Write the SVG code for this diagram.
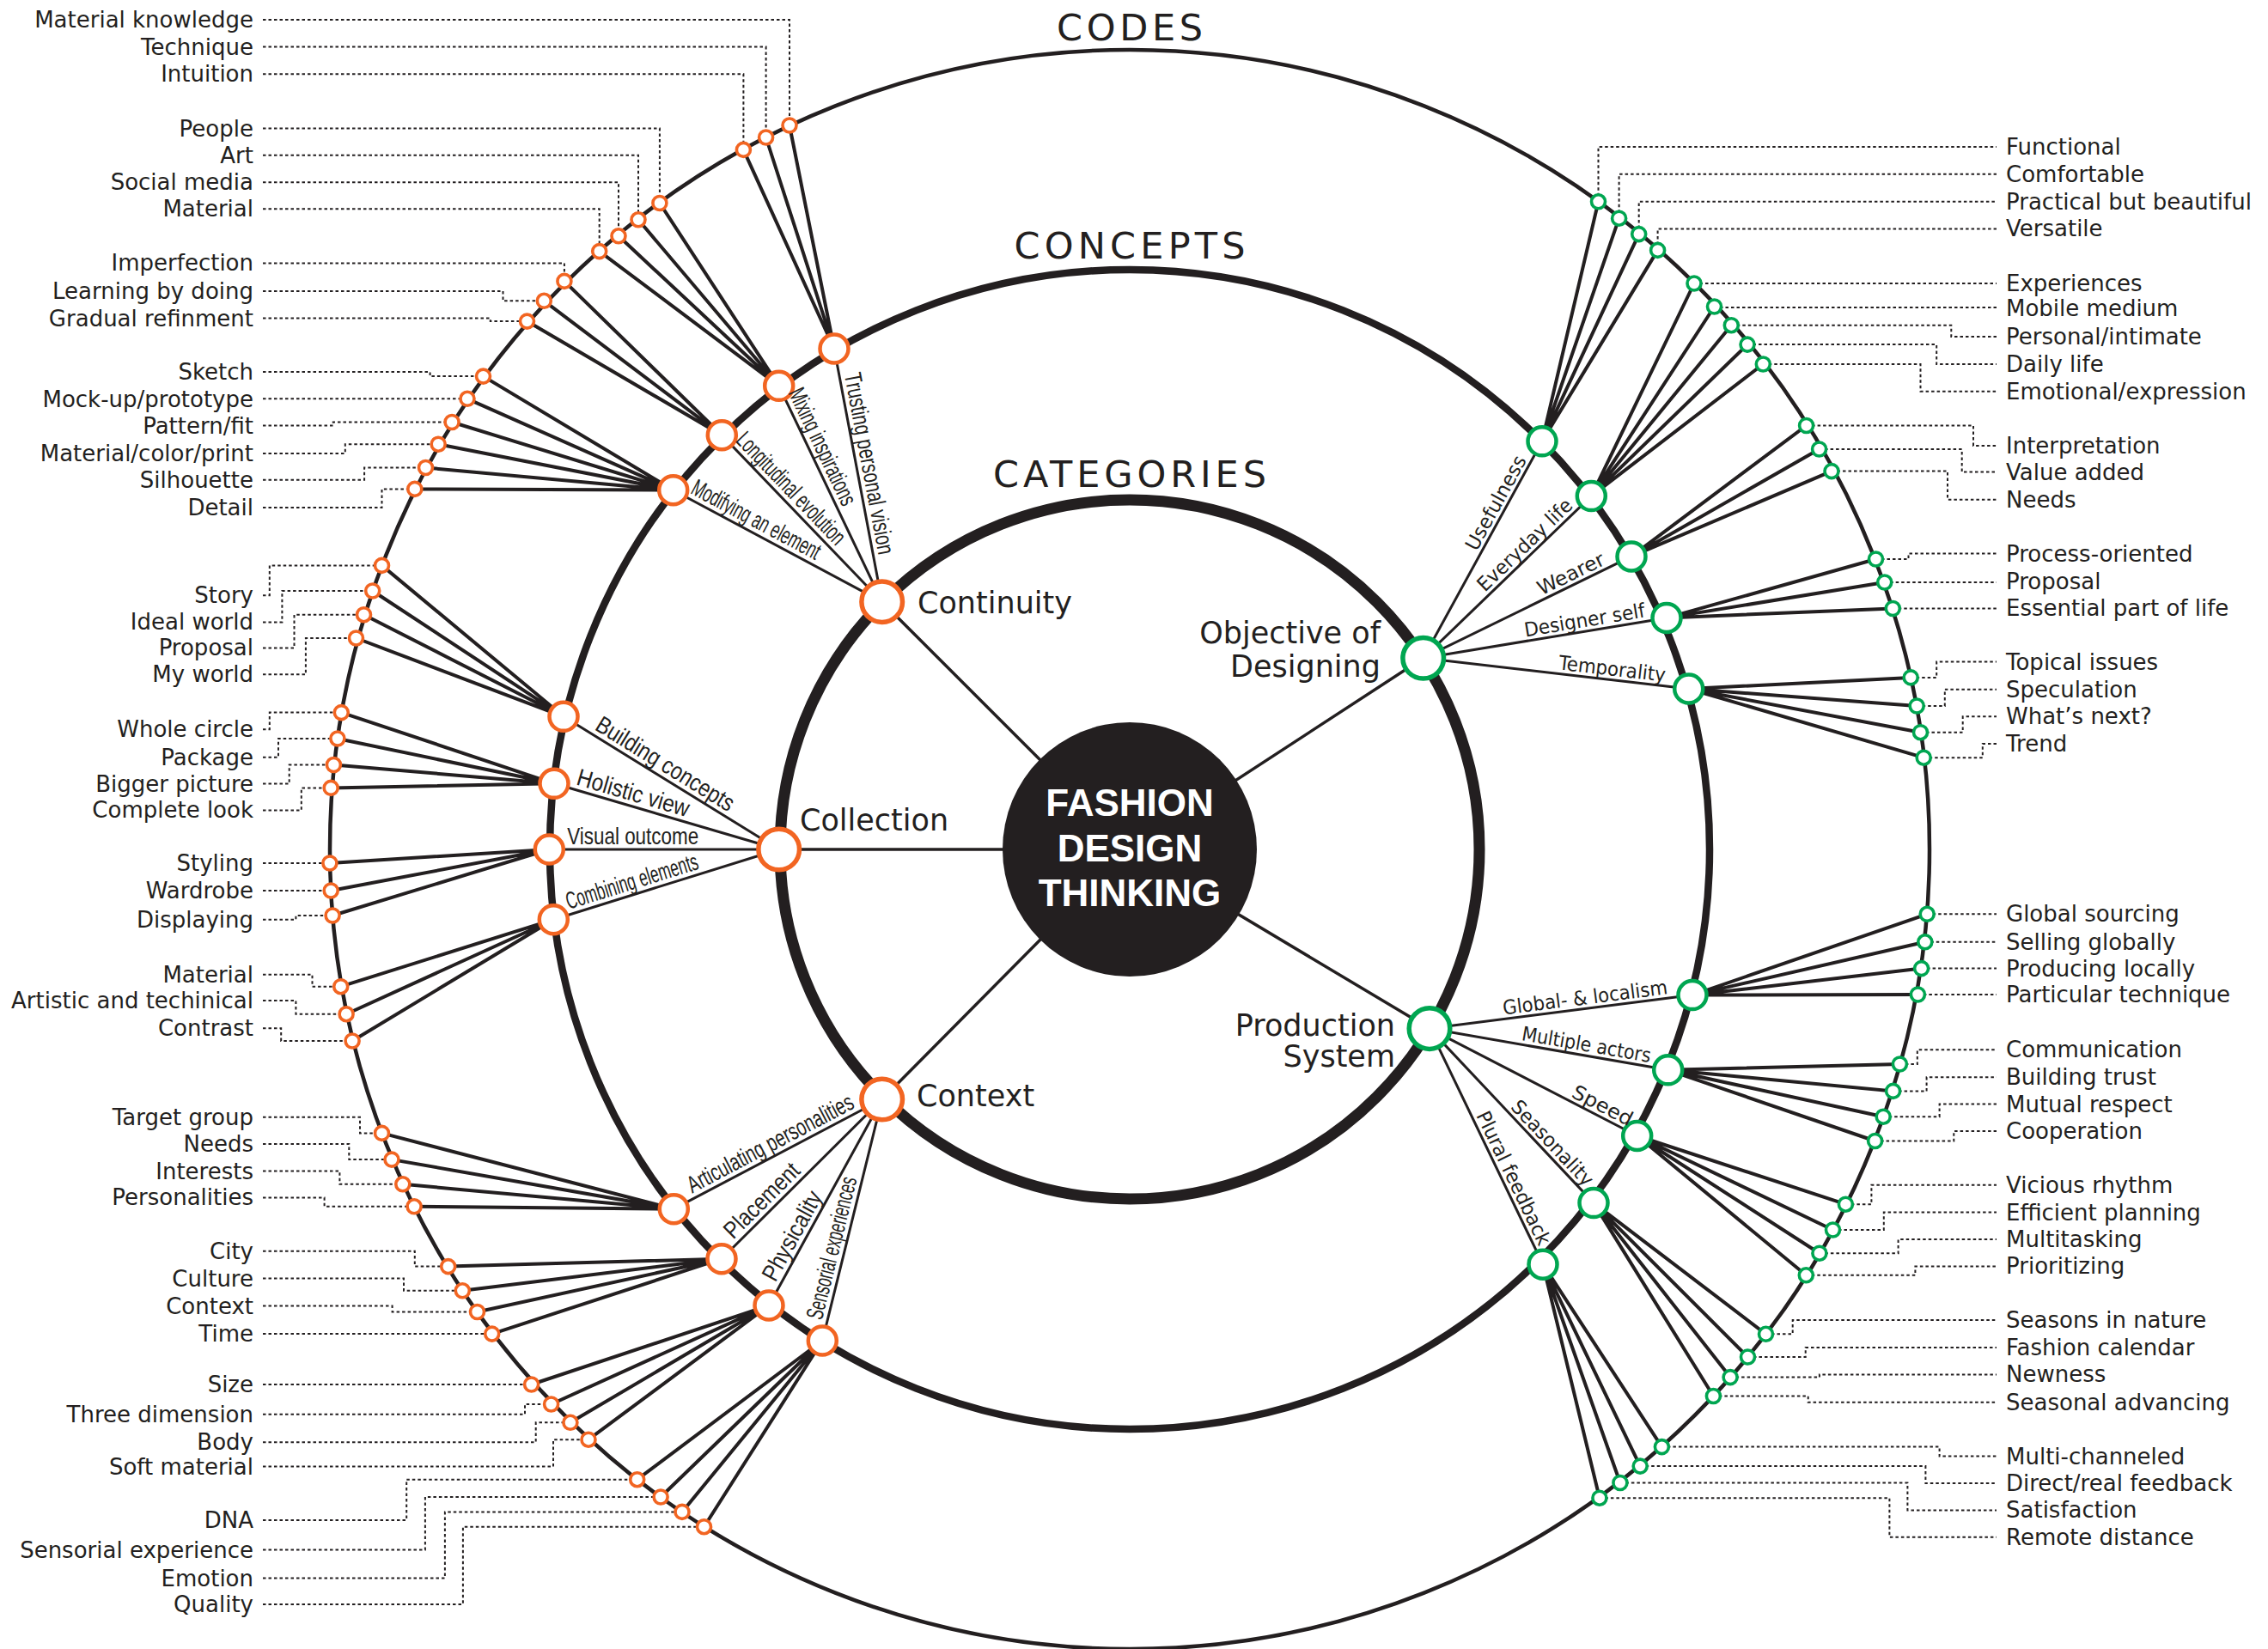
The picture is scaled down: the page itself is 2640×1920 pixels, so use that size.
<svg xmlns="http://www.w3.org/2000/svg" width="2640" height="1920" viewBox="0 0 2640 1920">
<style>
.bg{fill:#fff}
.ring{fill:none;stroke:#231f20}
.sp{stroke:#231f20;stroke-width:4;fill:none}
.cl{stroke:#231f20;stroke-width:3;fill:none}
.ctl{stroke:#231f20;stroke-width:3.5;fill:none}
.dot{fill:none;stroke:#231f20;stroke-width:2;stroke-dasharray:3.5 3}
.o{fill:#fff;stroke:#f26522}
.g{fill:#fff;stroke:#00a651}
.s{stroke-width:3.6}
.m{stroke-width:4.5}
.l{stroke-width:5.5}
.lb{font-family:"DejaVu Sans",Verdana,sans-serif;font-size:26px;fill:#231f20}
.e{text-anchor:end}
.rl{font-family:"Liberation Sans Narrow","Liberation Sans",Arial,sans-serif;font-size:28px;fill:#231f20;text-anchor:middle}
.rr{font-family:"DejaVu Sans",Verdana,sans-serif;font-size:23px;fill:#231f20;text-anchor:middle}
.cat{font-family:"DejaVu Sans",Verdana,sans-serif;font-size:35px;fill:#231f20}
.ttl{font-family:"DejaVu Sans",Verdana,sans-serif;font-size:43px;fill:#231f20;text-anchor:middle}
.ctr{font-family:"Liberation Sans",Arial,sans-serif;font-weight:bold;font-size:44px;fill:#fff;text-anchor:middle}
</style>
<rect class="bg" x="0" y="0" width="2640" height="1920"/>
<g id="rings">
<circle class="ring" cx="1315" cy="989" r="931" stroke-width="4.5"/>
<circle class="ring" cx="1315" cy="989" r="675" stroke-width="8.5"/>
<circle class="ring" cx="1315" cy="989" r="407" stroke-width="13"/>
<text class="ttl" x="1315" y="47" textLength="170" lengthAdjust="spacing">CODES</text>
<text class="ttl" x="1315" y="301" textLength="269" lengthAdjust="spacing">CONCEPTS</text>
<text class="ttl" x="1315" y="567" textLength="318" lengthAdjust="spacing">CATEGORIES</text>
</g>
<g id="connectors">
<g id="center-links">
<path class="ctl" d="M1026.7 700.7L1315 989M906.7 989H1315M1026.7 1280L1315 989M1656.7 766.3L1315 989M1664 1197.6L1315 989"/>
</g>
<g id="category-links">
<path class="cl" d="M1026.7 700.7L971 406M1026.7 700.7L906.7 449.3M1026.7 700.7L840.3 506.7M1026.7 700.7L783.7 570.7"/>
<path class="cl" d="M906.7 989L656 834.3M906.7 989L645 912.3M906.7 989L639.3 989M906.7 989L644.3 1070.7"/>
<path class="cl" d="M1026.7 1280L784.3 1407.7M1026.7 1280L840 1465.7M1026.7 1280L895 1520M1026.7 1280L957.3 1561"/>
<path class="cl" d="M1656.7 766.3L1795 513.8M1656.7 766.3L1852.3 577.6M1656.7 766.3L1899 647.9M1656.7 766.3L1940 719.4M1656.7 766.3L1965.7 802"/>
<path class="cl" d="M1664 1197.6L1970 1158.6M1664 1197.6L1941.7 1245.8M1664 1197.6L1905.7 1322.5M1664 1197.6L1855 1400.6M1664 1197.6L1796 1472.2"/>
</g>
<g id="code-links">
<path class="sp" d="M971 406L919 146M971 406L891.6 160M971 406L865.4 174.4"/>
<path class="sp" d="M906.7 449.3L767.9 236.5M906.7 449.3L743 255.8M906.7 449.3L720 274.8M906.7 449.3L697.7 292.6"/>
<path class="sp" d="M840.3 506.7L656.9 327.4M840.3 506.7L633.3 350.3M840.3 506.7L613.5 374.1"/>
<path class="sp" d="M783.7 570.7L562.5 438.1M783.7 570.7L544 464.3M783.7 570.7L526.1 491.5M783.7 570.7L510.2 517.2M783.7 570.7L495.5 544.5M783.7 570.7L482.8 569.4"/>
<path class="sp" d="M656 834.3L444.5 658.4M656 834.3L433.7 688M656 834.3L423.5 715.7M656 834.3L414.5 743"/>
<path class="sp" d="M645 912.3L397.3 829.6M645 912.3L392.9 860M645 912.3L388.4 890.5M645 912.3L385.2 917.4"/>
<path class="sp" d="M639.3 989L383.9 1005M639.3 989L385.2 1037M639.3 989L387.1 1066"/>
<path class="sp" d="M644.3 1070.7L396.7 1148.7M644.3 1070.7L403.1 1180.7M644.3 1070.7L410.1 1212"/>
<path class="sp" d="M784.3 1407.7L444.5 1319.4M784.3 1407.7L456 1350.1M784.3 1407.7L468.8 1378.8M784.3 1407.7L482.1 1404.8"/>
<path class="sp" d="M840 1465.7L521.7 1474.6M840 1465.7L538.3 1502.8M840 1465.7L555.5 1527.5M840 1465.7L572.7 1553.1"/>
<path class="sp" d="M895 1520L618.6 1612M895 1520L641.6 1635M895 1520L663.9 1656.3M895 1520L685 1676.2"/>
<path class="sp" d="M957.3 1561L741.7 1722.7M957.3 1561L769.1 1743M957.3 1561L794 1760.4M957.3 1561L819.5 1777.7"/>
<path class="sp" d="M1795 513.8L1860.5 234.8M1795 513.8L1884.6 254.2M1795 513.8L1907.7 272.6M1795 513.8L1929.6 291.4"/>
<path class="sp" d="M1852.3 577.6L1972 330M1852.3 577.6L1995.5 357M1852.3 577.6L2015.3 378.7M1852.3 577.6L2034 401.1M1852.3 577.6L2052.3 424"/>
<path class="sp" d="M1899 647.9L2102.6 495.5M1899 647.9L2117.6 523M1899 647.9L2132 548.6"/>
<path class="sp" d="M1940 719.4L2183.5 651M1940 719.4L2193.7 678M1940 719.4L2203.3 708.5"/>
<path class="sp" d="M1965.7 802L2224.2 788.9M1965.7 802L2231.2 822M1965.7 802L2235.5 852.7M1965.7 802L2239.2 882.2"/>
<path class="sp" d="M1970 1158.6L2243.2 1064.3M1970 1158.6L2240.8 1096.8M1970 1158.6L2236.6 1127.6M1970 1158.6L2232.4 1158"/>
<path class="sp" d="M1941.7 1245.8L2211.4 1239M1941.7 1245.8L2203.6 1270.4M1941.7 1245.8L2192.2 1300.2M1941.7 1245.8L2182.6 1328.5"/>
<path class="sp" d="M1905.7 1322.5L2148.4 1402.2M1905.7 1322.5L2133.5 1432M1905.7 1322.5L2117.9 1459.2M1905.7 1322.5L2102.3 1484.8"/>
<path class="sp" d="M1855 1400.6L2055.5 1553.3M1855 1400.6L2034.5 1580M1855 1400.6L2014.1 1603.6M1855 1400.6L1994.4 1625.5"/>
<path class="sp" d="M1796 1472.2L1934.4 1684.6M1796 1472.2L1909.2 1707.1M1796 1472.2L1885.9 1726.5M1796 1472.2L1861.9 1744.2"/>
</g>
<g id="label-leaders">
<path class="dot" d="M306 23H919V146M306 54.6H891.6V160M306 86.2H865.4V174.4"/>
<path class="dot" d="M306 149.5H767.9V236.5M306 180.7H743V255.8M306 212.3H720V274.8M306 243.2H697.7V292.6"/>
<path class="dot" d="M306 306.4H656.9V327.4M306 338.9H585.5V350.3H633.3M306 370.5H570.8V374.1H613.5"/>
<path class="dot" d="M306 433H500.6V438.1H562.5M306 464.3H544M306 495.5H387.8V491.5H526.1M306 527.9H401.8V517.2H510.2M306 558.7H424.1V544.5H495.5M306 591H444.5V569.4H482.8"/>
<path class="dot" d="M306 693.2H313.8V658.4H444.5M306 724.4H328.4V688H433.7M306 754.4H342.5V715.7H423.5M306 785.3H355.9V743H414.5"/>
<path class="dot" d="M306 849.3H313.8V829.6H397.3M306 881.8H324V860H392.9M306 912.6H336.7V890.5H388.4M306 943.4H350.8V917.4H385.2"/>
<path class="dot" d="M306 1005H383.9M306 1037H385.2M306 1070.8H344.4V1066H387.1"/>
<path class="dot" d="M306 1134.8H363.5V1148.7H396.7M306 1164.9H344.4V1180.7H403.1M306 1197.3H327.2V1212H410.1"/>
<path class="dot" d="M306 1300.7H419V1319.4H444.5M306 1331.9H406.3V1350.1H456M306 1363.6H395.4V1378.8H468.8M306 1394.4H377.6V1404.8H482.1"/>
<path class="dot" d="M306 1456.8H482.8V1474.6H521.7M306 1488.5H470V1502.8H538.3M306 1520.6H456.6V1527.5H555.5M306 1553.1H572.7"/>
<path class="dot" d="M306 1612H618.6M306 1646.8H611V1635H641.6M306 1679.3H623.7V1656.3H663.9M306 1707.5H644V1676.2H685"/>
<path class="dot" d="M306 1769.9H473.2V1722.7H741.7M306 1804.6H494.9V1743H769.1M306 1837.6H517.9V1760.4H794M306 1867.9H538.9V1777.7H819.5"/>
<path class="dot" d="M1860.5 234.8V171H2324M1884.6 254.2V202.7H2324M1907.7 272.6V234.8H2324M1929.6 291.4V266.4H2324"/>
<path class="dot" d="M1972 330H2324M1995.5 358H2324M2015.3 378.7H2271.3V392H2324M2034 401.1H2254.2V424H2324M2052.3 424H2235.5V455.7H2324"/>
<path class="dot" d="M2102.6 495.5H2297V519H2324M2117.6 523H2283.7V549.6H2324M2132 548.6H2267V581.7H2324"/>
<path class="dot" d="M2183.5 651H2221.5V644.5H2324M2193.7 678H2324M2203.3 708.5H2324"/>
<path class="dot" d="M2224.2 788.9H2254.2V770.5H2324M2231.2 822H2263.8V802.7H2324M2235.5 852.7H2284.7V834.3H2324M2239.2 882.2H2307.8V866H2324"/>
<path class="dot" d="M2243.2 1064.3H2324M2240.8 1096.8H2324M2236.6 1127.6H2324M2232.4 1158H2324"/>
<path class="dot" d="M2211.4 1239H2231.8V1222.3H2324M2203.6 1270.4H2242.6V1254.2H2324M2192.2 1300.2H2257.6V1285.6H2324M2182.6 1328.5H2274.3V1317H2324"/>
<path class="dot" d="M2148.4 1402.2H2178.4V1379.7H2324M2133.5 1432H2192.8V1411.6H2324M2117.9 1459.2H2209.6V1443H2324M2102.3 1484.8H2229.4V1474.4H2324"/>
<path class="dot" d="M2055.5 1553.3H2086.7V1537.1H2324M2034.5 1580H2101.7V1569H2324M2014.1 1603.6H2117.9V1600.4H2324M1994.4 1625.5H2104.7V1632.8H2324"/>
<path class="dot" d="M1934.4 1684.6H2257.6V1695.6H2324M1909.2 1707.1H2241.4V1727H2324M1885.9 1726.5H2220.4V1758.4H2324M1861.9 1744.2H2199.4V1789.7H2324"/>
</g>
</g>
<g id="fashion-design-thinking">
<circle cx="1315" cy="989" r="148" fill="#231f20"/>
<text class="ctr" x="1315" y="950">FASHION</text>
<text class="ctr" x="1315" y="1002.5">DESIGN</text>
<text class="ctr" x="1315" y="1055">THINKING</text>
</g>
<g id="categories">
<g id="cat-continuity"><circle class="o l" cx="1026.7" cy="700.7" r="23.8"/><text class="cat" x="1068" y="714">Continuity</text></g>
<g id="cat-collection"><circle class="o l" cx="906.7" cy="989" r="23.8"/><text class="cat" x="931" y="967">Collection</text></g>
<g id="cat-context"><circle class="o l" cx="1026.7" cy="1280" r="23.8"/><text class="cat" x="1067" y="1288">Context</text></g>
<g id="cat-objective"><circle class="g l" cx="1656.7" cy="766.3" r="23.8"/><text class="cat e" x="1607" y="749">Objective of</text><text class="cat e" x="1607" y="788">Designing</text></g>
<g id="cat-production"><circle class="g l" cx="1664" cy="1197.6" r="23.8"/><text class="cat e" x="1624" y="1205.6">Production</text><text class="cat e" x="1624" y="1242">System</text></g>
</g>
<g id="concepts">
<g id="con-trusting"><circle class="o m" cx="971" cy="406" r="16.5"/><text class="rl" transform="translate(996.8 542.4) rotate(79.3)" y="-6" textLength="215" lengthAdjust="spacingAndGlyphs">Trusting personal vision</text></g>
<g id="con-mixing"><circle class="o m" cx="906.7" cy="449.3" r="16.5"/><text class="rl" transform="translate(943.7 526.7) rotate(64.5)" y="-6" textLength="148" lengthAdjust="spacingAndGlyphs">Mixing inspirations</text></g>
<g id="con-longitudinal"><circle class="o m" cx="840.3" cy="506.7" r="16.5"/><text class="rl" transform="translate(909.8 579.1) rotate(46.15)" y="-6" textLength="170" lengthAdjust="spacingAndGlyphs">Longitudinal evolution</text></g>
<g id="con-modifying"><circle class="o m" cx="783.7" cy="570.7" r="16.5"/><text class="rl" transform="translate(873.1 618.5) rotate(28.15)" y="-6" textLength="166" lengthAdjust="spacingAndGlyphs">Modifying an element</text></g>
<g id="con-building"><circle class="o m" cx="656" cy="834.3" r="16.5"/><text class="rl" transform="translate(766.3 902.4) rotate(31.68)" y="-6" textLength="184" lengthAdjust="spacingAndGlyphs">Building concepts</text></g>
<g id="con-holistic"><circle class="o m" cx="645" cy="912.3" r="16.5"/><text class="rl" transform="translate(732.9 938.1) rotate(16.34)" y="-6" textLength="135" lengthAdjust="spacingAndGlyphs">Holistic view</text></g>
<g id="con-visual"><circle class="o m" cx="639.3" cy="989" r="16.5"/><text class="rl" transform="translate(736.7 989)" y="-6" textLength="153" lengthAdjust="spacingAndGlyphs">Visual outcome</text></g>
<g id="con-combining"><circle class="o m" cx="644.3" cy="1070.7" r="16.5"/><text class="rl" transform="translate(740.1 1040.9) rotate(-17.3)" y="-6" textLength="160" lengthAdjust="spacingAndGlyphs">Combining elements</text></g>
<g id="con-articulating"><circle class="o m" cx="784.3" cy="1407.7" r="16.5"/><text class="rl" transform="translate(903.6 1344.9) rotate(-27.78)" y="-6" textLength="215" lengthAdjust="spacingAndGlyphs">Articulating personalities</text></g>
<g id="con-placement"><circle class="o m" cx="840" cy="1465.7" r="16.5"/><text class="rl" transform="translate(897.5 1408.5) rotate(-44.84)" y="-6" textLength="112" lengthAdjust="spacingAndGlyphs">Placement</text></g>
<g id="con-physicality"><circle class="o m" cx="895" cy="1520" r="16.5"/><text class="rl" transform="translate(935.4 1446.3) rotate(-61.24)" y="-6" textLength="115" lengthAdjust="spacingAndGlyphs">Physicality</text></g>
<g id="con-sensorial"><circle class="o m" cx="957.3" cy="1561" r="16.5"/><text class="rl" transform="translate(983 1456.7) rotate(-76.13)" y="-6" textLength="170" lengthAdjust="spacingAndGlyphs">Sensorial experiences</text></g>
<g id="con-usefulness"><circle class="g m" cx="1795" cy="513.8" r="16.5"/><text class="rr" transform="translate(1752.4 591.6) rotate(-61.29)" y="-5" textLength="122" lengthAdjust="spacingAndGlyphs">Usefulness</text></g>
<g id="con-everyday"><circle class="g m" cx="1852.3" cy="577.6" r="16.5"/><text class="rr" transform="translate(1783.8 643.6) rotate(-43.97)" y="-5" textLength="144" lengthAdjust="spacingAndGlyphs">Everyday life</text></g>
<g id="con-wearer"><circle class="g m" cx="1899" cy="647.9" r="16.5"/><text class="rr" transform="translate(1834.1 679.6) rotate(-26.04)" y="-5" textLength="84" lengthAdjust="spacingAndGlyphs">Wearer</text></g>
<g id="con-designer"><circle class="g m" cx="1940" cy="719.4" r="16.5"/><text class="rr" transform="translate(1846.5 734.9) rotate(-9.4)" y="-5" textLength="142" lengthAdjust="spacingAndGlyphs">Designer self</text></g>
<g id="con-temporality"><circle class="g m" cx="1965.7" cy="802" r="16.5"/><text class="rr" transform="translate(1875.2 791.5) rotate(6.59)" y="-5" textLength="125" lengthAdjust="spacingAndGlyphs">Temporality</text></g>
<g id="con-global"><circle class="g m" cx="1970" cy="1158.6" r="16.5"/><text class="rr" transform="translate(1846.7 1174.3) rotate(-7.26)" y="-5" textLength="193" lengthAdjust="spacingAndGlyphs">Global- &amp; localism</text></g>
<g id="con-multiple"><circle class="g m" cx="1941.7" cy="1245.8" r="16.5"/><text class="rr" transform="translate(1844.5 1228.9) rotate(9.85)" y="-5" textLength="152" lengthAdjust="spacingAndGlyphs">Multiple actors</text></g>
<g id="con-speed"><circle class="g m" cx="1905.7" cy="1322.5" r="16.5"/><text class="rr" transform="translate(1859.5 1298.6) rotate(27.33)" y="-5" textLength="76" lengthAdjust="spacingAndGlyphs">Speed</text></g>
<g id="con-seasonality"><circle class="g m" cx="1855" cy="1400.6" r="16.5"/><text class="rr" transform="translate(1797.7 1339.7) rotate(46.75)" y="-5" textLength="128" lengthAdjust="spacingAndGlyphs">Seasonality</text></g>
<g id="con-plural"><circle class="g m" cx="1796" cy="1472.2" r="16.5"/><text class="rr" transform="translate(1750.3 1377.2) rotate(64.33)" y="-5" textLength="170" lengthAdjust="spacingAndGlyphs">Plural feedback</text></g>
</g>
<g id="codes-left">
<g id="c-material-knowledge"><circle class="o s" cx="919" cy="146" r="8"/><text class="lb e" x="295" y="32">Material knowledge</text></g>
<g id="c-technique"><circle class="o s" cx="891.6" cy="160" r="8"/><text class="lb e" x="295" y="63.6">Technique</text></g>
<g id="c-intuition"><circle class="o s" cx="865.4" cy="174.4" r="8"/><text class="lb e" x="295" y="95.2">Intuition</text></g>
<g id="c-people"><circle class="o s" cx="767.9" cy="236.5" r="8"/><text class="lb e" x="295" y="158.5">People</text></g>
<g id="c-art"><circle class="o s" cx="743" cy="255.8" r="8"/><text class="lb e" x="295" y="189.7">Art</text></g>
<g id="c-social-media"><circle class="o s" cx="720" cy="274.8" r="8"/><text class="lb e" x="295" y="221.3">Social media</text></g>
<g id="c-material-1"><circle class="o s" cx="697.7" cy="292.6" r="8"/><text class="lb e" x="295" y="252.2">Material</text></g>
<g id="c-imperfection"><circle class="o s" cx="656.9" cy="327.4" r="8"/><text class="lb e" x="295" y="315.4">Imperfection</text></g>
<g id="c-learning"><circle class="o s" cx="633.3" cy="350.3" r="8"/><text class="lb e" x="295" y="347.9">Learning by doing</text></g>
<g id="c-gradual"><circle class="o s" cx="613.5" cy="374.1" r="8"/><text class="lb e" x="295" y="379.5">Gradual refinment</text></g>
<g id="c-sketch"><circle class="o s" cx="562.5" cy="438.1" r="8"/><text class="lb e" x="295" y="442">Sketch</text></g>
<g id="c-mockup"><circle class="o s" cx="544" cy="464.3" r="8"/><text class="lb e" x="295" y="473.6">Mock-up/prototype</text></g>
<g id="c-pattern"><circle class="o s" cx="526.1" cy="491.5" r="8"/><text class="lb e" x="295" y="504.5">Pattern/fit</text></g>
<g id="c-mcp"><circle class="o s" cx="510.2" cy="517.2" r="8"/><text class="lb e" x="295" y="536.9">Material/color/print</text></g>
<g id="c-silhouette"><circle class="o s" cx="495.5" cy="544.5" r="8"/><text class="lb e" x="295" y="567.7">Silhouette</text></g>
<g id="c-detail"><circle class="o s" cx="482.8" cy="569.4" r="8"/><text class="lb e" x="295" y="600">Detail</text></g>
<g id="c-story"><circle class="o s" cx="444.5" cy="658.4" r="8"/><text class="lb e" x="295" y="702.2">Story</text></g>
<g id="c-ideal"><circle class="o s" cx="433.7" cy="688" r="8"/><text class="lb e" x="295" y="733.4">Ideal world</text></g>
<g id="c-proposal-1"><circle class="o s" cx="423.5" cy="715.7" r="8"/><text class="lb e" x="295" y="763.4">Proposal</text></g>
<g id="c-myworld"><circle class="o s" cx="414.5" cy="743" r="8"/><text class="lb e" x="295" y="794.3">My world</text></g>
<g id="c-whole"><circle class="o s" cx="397.3" cy="829.6" r="8"/><text class="lb e" x="295" y="858.3">Whole circle</text></g>
<g id="c-package"><circle class="o s" cx="392.9" cy="860" r="8"/><text class="lb e" x="295" y="890.8">Package</text></g>
<g id="c-bigger"><circle class="o s" cx="388.4" cy="890.5" r="8"/><text class="lb e" x="295" y="921.6">Bigger picture</text></g>
<g id="c-complete"><circle class="o s" cx="385.2" cy="917.4" r="8"/><text class="lb e" x="295" y="952.4">Complete look</text></g>
<g id="c-styling"><circle class="o s" cx="383.9" cy="1005" r="8"/><text class="lb e" x="295" y="1014">Styling</text></g>
<g id="c-wardrobe"><circle class="o s" cx="385.2" cy="1037" r="8"/><text class="lb e" x="295" y="1046">Wardrobe</text></g>
<g id="c-displaying"><circle class="o s" cx="387.1" cy="1066" r="8"/><text class="lb e" x="295" y="1079.8">Displaying</text></g>
<g id="c-material-2"><circle class="o s" cx="396.7" cy="1148.7" r="8"/><text class="lb e" x="295" y="1143.8">Material</text></g>
<g id="c-artistic"><circle class="o s" cx="403.1" cy="1180.7" r="8"/><text class="lb e" x="295" y="1173.9">Artistic and techinical</text></g>
<g id="c-contrast"><circle class="o s" cx="410.1" cy="1212" r="8"/><text class="lb e" x="295" y="1206.3">Contrast</text></g>
<g id="c-target"><circle class="o s" cx="444.5" cy="1319.4" r="8"/><text class="lb e" x="295" y="1309.7">Target group</text></g>
<g id="c-needs-1"><circle class="o s" cx="456" cy="1350.1" r="8"/><text class="lb e" x="295" y="1340.9">Needs</text></g>
<g id="c-interests"><circle class="o s" cx="468.8" cy="1378.8" r="8"/><text class="lb e" x="295" y="1372.6">Interests</text></g>
<g id="c-personalities"><circle class="o s" cx="482.1" cy="1404.8" r="8"/><text class="lb e" x="295" y="1403.4">Personalities</text></g>
<g id="c-city"><circle class="o s" cx="521.7" cy="1474.6" r="8"/><text class="lb e" x="295" y="1465.8">City</text></g>
<g id="c-culture"><circle class="o s" cx="538.3" cy="1502.8" r="8"/><text class="lb e" x="295" y="1497.5">Culture</text></g>
<g id="c-context"><circle class="o s" cx="555.5" cy="1527.5" r="8"/><text class="lb e" x="295" y="1529.6">Context</text></g>
<g id="c-time"><circle class="o s" cx="572.7" cy="1553.1" r="8"/><text class="lb e" x="295" y="1562.1">Time</text></g>
<g id="c-size"><circle class="o s" cx="618.6" cy="1612" r="8"/><text class="lb e" x="295" y="1621">Size</text></g>
<g id="c-three"><circle class="o s" cx="641.6" cy="1635" r="8"/><text class="lb e" x="295" y="1655.8">Three dimension</text></g>
<g id="c-body"><circle class="o s" cx="663.9" cy="1656.3" r="8"/><text class="lb e" x="295" y="1688.3">Body</text></g>
<g id="c-soft"><circle class="o s" cx="685" cy="1676.2" r="8"/><text class="lb e" x="295" y="1716.5">Soft material</text></g>
<g id="c-dna"><circle class="o s" cx="741.7" cy="1722.7" r="8"/><text class="lb e" x="295" y="1778.9">DNA</text></g>
<g id="c-sensorial"><circle class="o s" cx="769.1" cy="1743" r="8"/><text class="lb e" x="295" y="1813.6">Sensorial experience</text></g>
<g id="c-emotion"><circle class="o s" cx="794" cy="1760.4" r="8"/><text class="lb e" x="295" y="1846.6">Emotion</text></g>
<g id="c-quality"><circle class="o s" cx="819.5" cy="1777.7" r="8"/><text class="lb e" x="295" y="1876.9">Quality</text></g>
</g>
<g id="codes-right">
<g id="c-functional"><circle class="g s" cx="1860.5" cy="234.8" r="8"/><text class="lb" x="2335" y="180">Functional</text></g>
<g id="c-comfortable"><circle class="g s" cx="1884.6" cy="254.2" r="8"/><text class="lb" x="2335" y="211.7">Comfortable</text></g>
<g id="c-practical"><circle class="g s" cx="1907.7" cy="272.6" r="8"/><text class="lb" x="2335" y="243.8">Practical but beautiful</text></g>
<g id="c-versatile"><circle class="g s" cx="1929.6" cy="291.4" r="8"/><text class="lb" x="2335" y="275.4">Versatile</text></g>
<g id="c-experiences"><circle class="g s" cx="1972" cy="330" r="8"/><text class="lb" x="2335" y="339">Experiences</text></g>
<g id="c-mobile"><circle class="g s" cx="1995.5" cy="357" r="8"/><text class="lb" x="2335" y="368">Mobile medium</text></g>
<g id="c-personal"><circle class="g s" cx="2015.3" cy="378.7" r="8"/><text class="lb" x="2335" y="401">Personal/intimate</text></g>
<g id="c-daily"><circle class="g s" cx="2034" cy="401.1" r="8"/><text class="lb" x="2335" y="433">Daily life</text></g>
<g id="c-emotional"><circle class="g s" cx="2052.3" cy="424" r="8"/><text class="lb" x="2335" y="464.7">Emotional/expression</text></g>
<g id="c-interpretation"><circle class="g s" cx="2102.6" cy="495.5" r="8"/><text class="lb" x="2335" y="528">Interpretation</text></g>
<g id="c-value"><circle class="g s" cx="2117.6" cy="523" r="8"/><text class="lb" x="2335" y="558.6">Value added</text></g>
<g id="c-needs-2"><circle class="g s" cx="2132" cy="548.6" r="8"/><text class="lb" x="2335" y="590.7">Needs</text></g>
<g id="c-process"><circle class="g s" cx="2183.5" cy="651" r="8"/><text class="lb" x="2335" y="653.5">Process-oriented</text></g>
<g id="c-proposal-2"><circle class="g s" cx="2193.7" cy="678" r="8"/><text class="lb" x="2335" y="686">Proposal</text></g>
<g id="c-essential"><circle class="g s" cx="2203.3" cy="708.5" r="8"/><text class="lb" x="2335" y="717">Essential part of life</text></g>
<g id="c-topical"><circle class="g s" cx="2224.2" cy="788.9" r="8"/><text class="lb" x="2335" y="779.5">Topical issues</text></g>
<g id="c-speculation"><circle class="g s" cx="2231.2" cy="822" r="8"/><text class="lb" x="2335" y="811.7">Speculation</text></g>
<g id="c-whatsnext"><circle class="g s" cx="2235.5" cy="852.7" r="8"/><text class="lb" x="2335" y="843.3">What’s next?</text></g>
<g id="c-trend"><circle class="g s" cx="2239.2" cy="882.2" r="8"/><text class="lb" x="2335" y="875">Trend</text></g>
<g id="c-global-sourcing"><circle class="g s" cx="2243.2" cy="1064.3" r="8"/><text class="lb" x="2335" y="1073.3">Global sourcing</text></g>
<g id="c-selling"><circle class="g s" cx="2240.8" cy="1096.8" r="8"/><text class="lb" x="2335" y="1105.8">Selling globally</text></g>
<g id="c-producing"><circle class="g s" cx="2236.6" cy="1127.6" r="8"/><text class="lb" x="2335" y="1136.6">Producing locally</text></g>
<g id="c-particular"><circle class="g s" cx="2232.4" cy="1158" r="8"/><text class="lb" x="2335" y="1167">Particular technique</text></g>
<g id="c-communication"><circle class="g s" cx="2211.4" cy="1239" r="8"/><text class="lb" x="2335" y="1231.3">Communication</text></g>
<g id="c-trust"><circle class="g s" cx="2203.6" cy="1270.4" r="8"/><text class="lb" x="2335" y="1263.2">Building trust</text></g>
<g id="c-mutual"><circle class="g s" cx="2192.2" cy="1300.2" r="8"/><text class="lb" x="2335" y="1294.6">Mutual respect</text></g>
<g id="c-cooperation"><circle class="g s" cx="2182.6" cy="1328.5" r="8"/><text class="lb" x="2335" y="1326">Cooperation</text></g>
<g id="c-vicious"><circle class="g s" cx="2148.4" cy="1402.2" r="8"/><text class="lb" x="2335" y="1388.7">Vicious rhythm</text></g>
<g id="c-efficient"><circle class="g s" cx="2133.5" cy="1432" r="8"/><text class="lb" x="2335" y="1420.6">Efficient planning</text></g>
<g id="c-multitasking"><circle class="g s" cx="2117.9" cy="1459.2" r="8"/><text class="lb" x="2335" y="1452">Multitasking</text></g>
<g id="c-prioritizing"><circle class="g s" cx="2102.3" cy="1484.8" r="8"/><text class="lb" x="2335" y="1483.4">Prioritizing</text></g>
<g id="c-seasons"><circle class="g s" cx="2055.5" cy="1553.3" r="8"/><text class="lb" x="2335" y="1546.1">Seasons in nature</text></g>
<g id="c-calendar"><circle class="g s" cx="2034.5" cy="1580" r="8"/><text class="lb" x="2335" y="1578">Fashion calendar</text></g>
<g id="c-newness"><circle class="g s" cx="2014.1" cy="1603.6" r="8"/><text class="lb" x="2335" y="1609.4">Newness</text></g>
<g id="c-advancing"><circle class="g s" cx="1994.4" cy="1625.5" r="8"/><text class="lb" x="2335" y="1641.8">Seasonal advancing</text></g>
<g id="c-multichannel"><circle class="g s" cx="1934.4" cy="1684.6" r="8"/><text class="lb" x="2335" y="1704.6">Multi-channeled</text></g>
<g id="c-direct"><circle class="g s" cx="1909.2" cy="1707.1" r="8"/><text class="lb" x="2335" y="1736">Direct/real feedback</text></g>
<g id="c-satisfaction"><circle class="g s" cx="1885.9" cy="1726.5" r="8"/><text class="lb" x="2335" y="1767.4">Satisfaction</text></g>
<g id="c-remote"><circle class="g s" cx="1861.9" cy="1744.2" r="8"/><text class="lb" x="2335" y="1798.7">Remote distance</text></g>
</g>
</svg>
